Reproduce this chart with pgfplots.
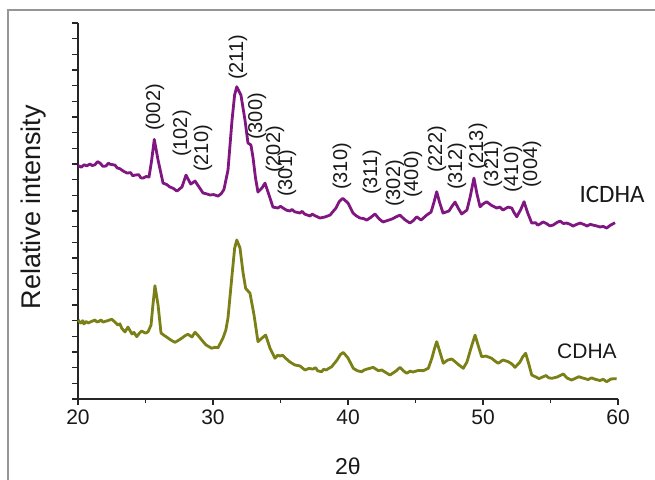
\documentclass[border=0pt]{standalone}
\usepackage{fontspec}
\setmainfont{Liberation Sans}
\newfontfamily\carlito{Carlito}
\usepackage{pgfplots}
\pgfplotsset{compat=1.18}
\definecolor{icdha}{RGB}{128,22,128}
\definecolor{cdha}{RGB}{122,128,22}
\definecolor{framegray}{RGB}{150,150,150}
\begin{document}
\begin{tikzpicture}
\useasboundingbox (0,0) rectangle (655pt,479pt);
\fill[white] (0,0) rectangle (655pt,479pt);
\draw[framegray, line width=1.5pt] (8pt,-2pt) -- (8pt,469pt) -- (657pt,469pt);
\begin{axis}[
  at={(78pt,80pt)}, anchor=south west,
  scale only axis, width=540pt, height=376pt,
  xmin=20, xmax=60, ymin=0, ymax=24,
  axis x line*=bottom, axis y line*=left,
  axis line style={line width=1.1pt, black!85},
  xtick={20,30,40,50,60}, minor xtick={25,35,45,55},
  ytick={0,1,...,24}, yticklabels={},
  tick align=outside,
  major tick length=6pt, minor tick length=4pt,
  every tick/.style={line width=1.1pt, black!85},
  tick label style={font=\fontsize{21}{24}\selectfont, text=black!90},
  /pgf/number format/assume math mode=true,
  xticklabel style={yshift=-1pt},
  xlabel={2θ},
  xlabel style={font=\fontsize{23}{26}\selectfont, at={(axis description cs:0.5,-0.178)}, anchor=center, text=black!90},
  ylabel={Relative intensity},
  ylabel style={font=\fontsize{27}{30}\selectfont, at={(axis description cs:-0.0815,0.51)}, anchor=center, text=black!90},
  clip=false,
]
\addplot[icdha, line width=2.8pt, line join=round] coordinates {
(20.00,14.89) (20.25,14.80) (20.45,14.95) (20.65,14.88) (20.89,15.00) (21.05,14.90) (21.25,14.95) (21.45,15.15) (21.63,15.06) (21.85,14.85) (22.07,14.87) (22.25,15.05) (22.40,14.98) (22.74,14.93)
(22.90,14.75) (23.10,14.70) (23.35,14.55) (23.63,14.42) (23.90,14.45) (24.05,14.25) (24.22,14.29) (24.50,14.32) (24.65,14.12) (24.81,14.10) (25.05,14.20) (25.26,14.17)
(25.45,15.20) (25.65,16.57) (25.93,15.25) (26.30,13.78) (26.55,13.70) (26.81,13.53) (27.05,13.45) (27.33,13.27)
(27.70,13.53) (28.00,14.29) (28.35,13.72) (28.67,13.91) (28.95,13.55) (29.26,13.15) (29.50,13.10) (29.78,13.02)
(30.05,13.05) (30.37,12.95) (30.60,13.10) (30.81,13.37) (31.11,14.61) (31.41,17.80) (31.60,19.40) (31.76,19.93)
(32.07,19.40) (32.37,17.80) (32.59,16.34) (32.81,16.21) (32.96,15.44) (33.15,14.10) (33.33,13.21) (33.63,13.47)
(33.85,13.78) (34.15,13.02) (34.44,12.25) (34.81,12.19) (35.00,12.30) (35.19,12.19) (35.45,12.05) (35.70,12.00)
(35.85,12.10) (36.05,11.95) (36.44,11.87) (36.60,11.98) (36.80,11.80) (37.19,11.68) (37.35,11.80) (37.55,11.70) (37.93,11.55) (38.30,11.62) (38.67,11.74)
(39.11,12.19) (39.35,12.60) (39.61,12.81) (40.00,12.51) (40.37,11.87) (40.60,11.70) (40.89,11.55) (41.15,11.52) (41.39,11.42)
(41.70,11.60) (42.00,11.81) (42.30,11.50) (42.59,11.30) (42.95,11.40) (43.26,11.49) (43.55,11.62) (43.85,11.74)
(44.20,11.45) (44.59,11.23) (44.85,11.40) (45.09,11.63) (45.41,11.42) (45.83,11.74) (46.15,11.93) (46.35,12.50)
(46.57,13.23) (46.80,12.50) (47.04,11.87) (47.48,12.00) (47.70,12.30) (47.93,12.57) (48.15,12.20) (48.42,11.81)
(48.81,12.06) (49.05,12.90) (49.33,14.10) (49.55,13.10) (49.78,12.27) (50.00,12.45) (50.27,12.59) (50.59,12.38)
(51.01,12.19) (51.25,12.25) (51.48,12.06) (51.85,12.25) (52.13,12.19) (52.30,11.90) (52.50,11.63) (52.80,12.10)
(53.04,12.59) (53.30,11.90) (53.61,11.23) (53.90,11.25) (54.05,11.10) (54.22,11.17) (54.45,11.30) (54.70,11.20) (54.95,11.05) (55.19,11.10) (55.45,11.25)
(55.70,11.36) (55.95,11.20) (56.20,11.23) (56.45,11.15) (56.67,11.04) (56.95,11.15) (57.19,11.23) (57.45,11.15)
(57.70,11.04) (57.95,11.15) (58.15,11.10) (58.40,11.05) (58.67,10.98) (58.90,11.02) (59.16,10.91) (59.45,11.10) (59.78,11.25)
};
\addplot[cdha, line width=2.8pt, line join=round] coordinates {
(20.02,5.04) (20.15,4.88) (20.25,4.85) (20.35,5.00) (20.44,4.79) (20.60,4.95) (20.74,4.85) (21.00,4.95) (21.26,5.04) (21.40,4.92) (21.55,4.95) (21.70,5.05) (21.85,4.91) (22.20,5.00)
(22.50,5.09) (22.75,4.90) (22.96,4.72) (23.10,4.80) (23.25,4.50) (23.48,4.28) (23.70,4.59) (24.00,4.15) (24.15,4.25) (24.35,3.98) (24.55,4.20)
(24.72,4.34) (25.00,4.20) (25.19,4.29) (25.41,4.72) (25.55,6.00) (25.70,7.23) (25.93,6.00) (26.15,4.21) (26.40,4.05)
(26.67,3.89) (26.90,3.75) (27.19,3.62) (27.45,3.75) (27.70,3.89) (27.95,4.05) (28.15,4.13) (28.44,3.96) (28.67,4.26)
(28.90,4.05) (29.16,3.77) (29.48,3.45) (29.90,3.24) (30.15,3.30) (30.37,3.27) (30.74,3.89) (30.95,4.40) (31.11,5.17)
(31.41,7.91) (31.60,9.60) (31.76,10.15) (32.00,9.64) (32.22,8.10) (32.42,7.06) (32.74,6.75) (33.04,5.36) (33.33,3.66)
(33.63,3.89) (33.90,4.08) (34.22,3.25) (34.59,2.60) (34.80,2.80) (34.96,2.74) (35.15,2.80) (35.33,2.64) (35.70,2.36) (36.07,2.17) (36.44,2.11)
(36.81,1.85) (37.10,1.95) (37.41,1.91) (37.60,2.00) (37.75,1.80) (38.05,1.74) (38.20,1.90) (38.37,1.85) (38.79,2.06) (39.19,2.49) (39.45,2.85)
(39.65,2.97) (40.00,2.62) (40.39,1.96) (40.70,1.80) (41.01,1.74) (41.20,1.85) (41.41,1.91) (41.87,2.02) (42.24,1.81) (42.50,1.85) (42.74,1.72)
(43.11,1.53) (43.56,1.79) (43.85,2.02) (44.10,1.80) (44.35,1.64) (44.60,1.78) (44.81,1.72) (45.19,1.82) (45.58,1.81) (45.95,1.96)
(46.22,2.62) (46.40,3.20) (46.57,3.66) (46.81,3.00) (47.06,2.28) (47.39,2.49) (47.70,2.55) (47.93,2.38) (48.25,2.15)
(48.54,1.96) (48.81,2.36) (49.11,3.25) (49.41,4.08) (49.63,3.45) (49.90,2.70) (50.22,2.74) (50.64,2.60) (50.89,2.42)
(51.13,2.28) (51.48,2.49) (51.87,2.38) (52.15,2.23) (52.37,2.02) (52.74,2.36) (52.95,2.70) (53.16,2.92) (53.41,2.17)
(53.61,1.53) (53.93,1.40) (54.15,1.30) (54.35,1.38) (54.67,1.50) (54.85,1.36) (55.09,1.32) (55.48,1.40) (55.95,1.60) (56.22,1.34) (56.57,1.21)
(56.89,1.34) (57.10,1.42) (57.31,1.36) (57.55,1.30) (57.78,1.24) (58.05,1.35) (58.30,1.26) (58.67,1.18) (58.90,1.26) (59.16,1.10) (59.48,1.28) (59.90,1.30)
};
\begin{scope}[every node/.style={rotate=90, anchor=west, inner sep=0pt, font=\fontsize{20}{22}\selectfont, text=black!90}]
\node at (axis cs:25.70,17.10) {(002)};
\node at (axis cs:27.70,15.44) {(102)};
\node at (axis cs:29.26,14.49) {(210)};
\node at (axis cs:31.85,20.36) {(211)};
\node at (axis cs:33.26,16.53) {(300)};
\node at (axis cs:34.59,14.42) {(202)};
\node at (axis cs:35.48,12.89) {(301)};
\node at (axis cs:39.56,13.34) {(310)};
\node at (axis cs:41.78,13.02) {(311)};
\node at (axis cs:43.48,12.25) {(302)};
\node at (axis cs:44.81,12.83) {(400)};
\node at (axis cs:46.59,14.42) {(222)};
\node at (axis cs:48.07,13.34) {(312)};
\node at (axis cs:49.63,14.61) {(213)};
\node at (axis cs:50.74,13.47) {(321)};
\node at (axis cs:52.22,13.15) {(410)};
\node at (axis cs:53.63,13.47) {(004)};
\end{scope}
\node[font=\carlito\fontsize{25}{28}\selectfont, text=black!90] at (axis cs:59.56,13.08) {ICDHA};
\node[font=\fontsize{21}{24}\selectfont, text=black!90] at (axis cs:57.70,3.06) {CDHA};
\end{axis}
\end{tikzpicture}
\end{document}
